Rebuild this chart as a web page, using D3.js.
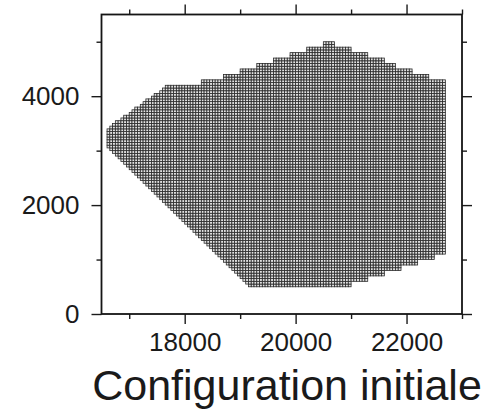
<!DOCTYPE html>
<html><head><meta charset="utf-8">
<script src="https://cdn.jsdelivr.net/npm/d3@7"></script>
<style>html,body{margin:0;padding:0;background:#fff;} svg{display:block;}</style>
</head><body><svg id="c" width="494" height="417"></svg>
<script>
const xDomain = [16500, 23000];
const yDomain = [0, 5500];
const xMajorTicks = [18000, 20000, 22000];
const xMinorTicks = [17000, 19000, 21000, 23000];
const yMajorTicks = [0, 2000, 4000];
const yMinorTicks = [1000, 3000, 5000];
const cellSize = 50;
const outlineX = [16600,16600,17700,18300,18300,18700,18700,19000,19000,19300,19300,19600,19600,19900,19900,20200,20200,20500,20500,20700,20700,21000,21000,21300,21300,21600,21600,21800,21800,22100,22100,22400,22400,22700,22700,22500,22500,22200,22200,21900,21900,21600,21600,21300,21300,21000,21000,19200];
const outlineY = [3100,3400,4200,4200,4300,4300,4400,4400,4500,4500,4600,4600,4700,4700,4800,4800,4900,4900,5000,5000,4900,4900,4800,4800,4700,4700,4600,4600,4500,4500,4400,4400,4300,4300,1100,1100,1000,1000,900,900,800,800,700,700,600,600,500,500];
const title = "Configuration initiale";

const svg = d3.select("#c");
const L = 101.5, R = 462, T = 14.5, B = 314;
const x = d3.scaleLinear().domain(xDomain).range([L, R]);
const y = d3.scaleLinear().domain(yDomain).range([B, T]);
const font = "'Liberation Sans', Arial, Helvetica, sans-serif";

const polygon = outlineX.map((v, i) => [v, outlineY[i]]);
const cells = [];
const [x0, x1] = d3.extent(outlineX), [y0, y1] = d3.extent(outlineY);
for (let cx = x0; cx < x1; cx += cellSize)
  for (let cy = y0; cy < y1; cy += cellSize)
    if (d3.polygonContains(polygon, [cx + cellSize / 2, cy + cellSize / 2])) cells.push({x: cx, y: cy});

svg.append("g").selectAll("rect").data(cells).join("rect")
  .attr("x", d => x(d.x))
  .attr("y", d => y(d.y + cellSize))
  .attr("width", d => x(d.x + cellSize) - x(d.x))
  .attr("height", d => y(d.y) - y(d.y + cellSize))
  .attr("fill", "#e2e2e2")
  .attr("stroke", "#2a2a2a")
  .attr("stroke-width", 0.8);

function styleAxis(g, size) {
  g.select(".domain").remove();
  g.selectAll(".tick line").attr("stroke", "#1a1a1a").attr("stroke-width", 1.4);
  g.selectAll(".tick text").attr("fill", "#1a1a1a").style("font-family", font).style("font-size", size + "px");
}

// bottom
svg.append("g").attr("transform", `translate(0,${B})`)
  .call(d3.axisBottom(x).tickValues(xMajorTicks).tickSize(10).tickPadding(9).tickFormat(d3.format("d")))
  .call(g => styleAxis(g, 26));
svg.append("g").attr("transform", `translate(0,${B})`)
  .call(d3.axisBottom(x).tickValues(xMinorTicks).tickSize(5).tickFormat(""))
  .call(g => styleAxis(g, 26));
// top
svg.append("g").attr("transform", `translate(0,${T})`)
  .call(d3.axisTop(x).tickValues(xMajorTicks).tickSize(10).tickFormat(""))
  .call(g => styleAxis(g, 26));
svg.append("g").attr("transform", `translate(0,${T})`)
  .call(d3.axisTop(x).tickValues(xMinorTicks).tickSize(5).tickFormat(""))
  .call(g => styleAxis(g, 26));
// left
svg.append("g").attr("transform", `translate(${L},0)`)
  .call(d3.axisLeft(y).tickValues(yMajorTicks).tickSize(10).tickPadding(12).tickFormat(d3.format("d")))
  .call(g => styleAxis(g, 26));
svg.append("g").attr("transform", `translate(${L},0)`)
  .call(d3.axisLeft(y).tickValues(yMinorTicks).tickSize(5).tickFormat(""))
  .call(g => styleAxis(g, 26));
// right
svg.append("g").attr("transform", `translate(${R},0)`)
  .call(d3.axisRight(y).tickValues(yMajorTicks).tickSize(10).tickFormat(""))
  .call(g => styleAxis(g, 26));
svg.append("g").attr("transform", `translate(${R},0)`)
  .call(d3.axisRight(y).tickValues(yMinorTicks).tickSize(5).tickFormat(""))
  .call(g => styleAxis(g, 26));

svg.append("rect").attr("x", L).attr("y", T).attr("width", R - L).attr("height", B - T)
  .attr("fill", "none").attr("stroke", "#151515").attr("stroke-width", 1.8);

svg.append("text").attr("x", 287).attr("y", 400).attr("text-anchor", "middle")
  .style("font-family", font).style("font-size", "43px").attr("fill", "#1a1a1a")
  .text(title);
</script></body></html>
